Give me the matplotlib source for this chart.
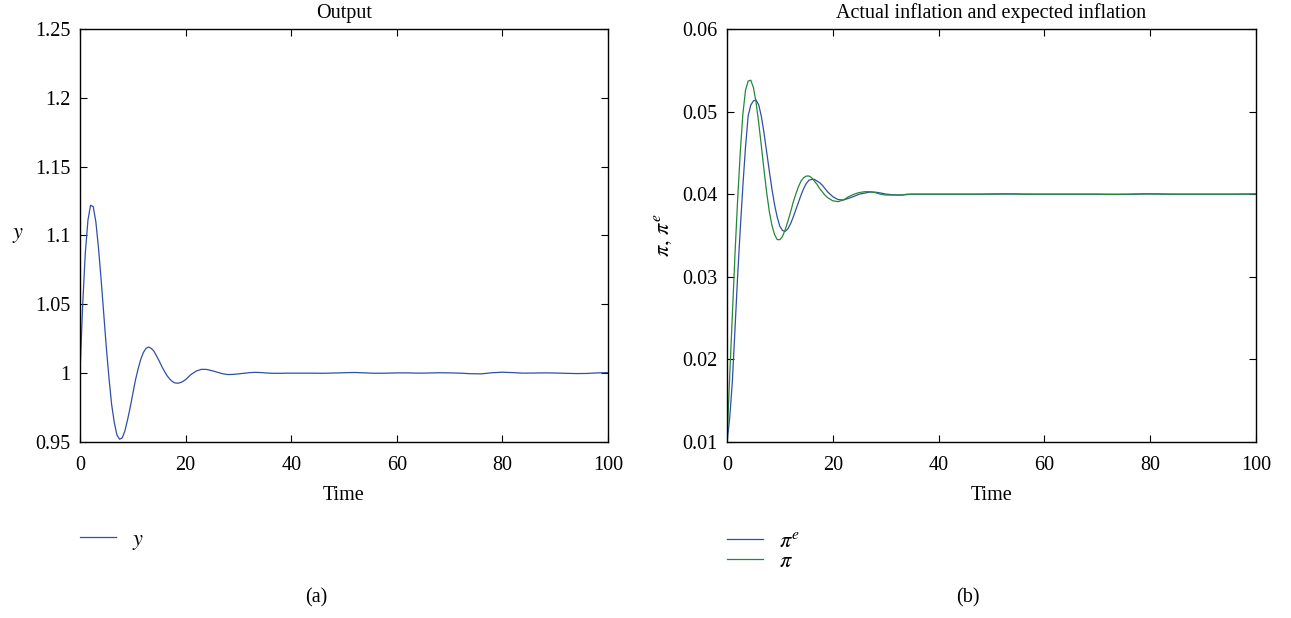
import matplotlib
matplotlib.use("Agg")
import matplotlib.pyplot as plt
from matplotlib.ticker import FormatStrFormatter

plt.rcParams['font.family'] = ['Liberation Serif', 'DejaVu Serif']
plt.rcParams['mathtext.fontset'] = 'stix'

# time grid: 0..20 by 0.5, 21..40 by 1, 42..100 by 2
time = [0, 0.5, 1, 1.5, 2, 2.5, 3, 3.5, 4, 4.5, 5, 5.5, 6, 6.5, 7, 7.5, 8, 8.5, 9, 9.5,
        10, 10.5, 11, 11.5, 12, 12.5, 13, 13.5, 14, 14.5, 15, 15.5, 16, 16.5, 17, 17.5,
        18, 18.5, 19, 19.5, 20,
        21, 22, 23, 24, 25, 26, 27, 28, 29, 30, 31, 32, 33, 34, 35, 36, 37, 38, 39, 40,
        42, 44, 46, 48, 50, 52, 54, 56, 58, 60, 62, 64, 66, 68, 70, 72, 74, 76, 78, 80,
        82, 84, 86, 88, 90, 92, 94, 96, 98, 100]

# output y
output_y = [1.000, 1.049, 1.087, 1.111, 1.122, 1.121, 1.110, 1.091, 1.068, 1.043,
            1.018, 0.996, 0.977, 0.964, 0.955, 0.952, 0.953, 0.958, 0.966, 0.975,
            0.985, 0.995, 1.003, 1.010, 1.015, 1.018, 1.019, 1.018, 1.016, 1.0125,
            1.0088, 1.0049, 1.0013, 0.9981, 0.9957, 0.9939, 0.9929, 0.9927, 0.9931, 0.9940,
            0.9953,
            0.9990, 1.0015, 1.0028, 1.0027, 1.0018, 1.0007, 0.9996, 0.9990, 0.9991, 0.9995,
            0.9999, 1.0003, 1.0006, 1.0005, 1.0002, 1.0000, 0.9999, 0.9999, 1.0000, 1.0000,
            1.0000, 1.0000, 0.9999, 1.0001, 1.0003, 1.0005, 1.0002, 0.9999, 1.0000, 1.0002,
            1.0002, 1.0000, 1.0001, 1.0003, 1.0002, 1.0000, 0.9996, 0.9995, 1.0003, 1.0007,
            1.0004, 1.0000, 1.0001, 1.0002, 1.0001, 0.9999, 0.9997, 0.9998, 1.0002, 1.0004]

# expected inflation pi^e
pi_e = [0.0100, 0.0128, 0.0172, 0.0235, 0.0300, 0.0357, 0.0410, 0.0457, 0.0495, 0.0508,
        0.0513, 0.0514, 0.0508, 0.0494, 0.0474, 0.0451, 0.0428, 0.0406, 0.0387, 0.0372,
        0.0361, 0.0356, 0.0355, 0.0358, 0.0364, 0.0372, 0.0381, 0.0390, 0.0399, 0.0407,
        0.0413, 0.0417, 0.0418, 0.0418, 0.0416, 0.0414, 0.0411, 0.0407, 0.0403, 0.0400,
        0.0397,
        0.03935, 0.0393, 0.0395, 0.03974, 0.0400, 0.04013, 0.04026, 0.04025, 0.04015, 0.04002,
        0.03995, 0.0399, 0.0399, 0.03995, 0.0400, 0.0400, 0.0400, 0.0400, 0.0400, 0.0400,
        0.0400, 0.0400, 0.0400, 0.0400, 0.04001, 0.04003, 0.04003, 0.04001, 0.0400, 0.0400,
        0.0400, 0.0400, 0.0400, 0.0400, 0.0400, 0.03999, 0.03998, 0.03999, 0.04002, 0.04004,
        0.04002, 0.0400, 0.0400, 0.0400, 0.0400, 0.0400, 0.0400, 0.0400, 0.04001, 0.04002]

# actual inflation pi
pi_a = [0.0100, 0.0178, 0.0252, 0.0326, 0.0392, 0.0450, 0.0497, 0.0526, 0.0537, 0.0538,
        0.0529, 0.0511, 0.0486, 0.0458, 0.0429, 0.0402, 0.0379, 0.0362, 0.0351, 0.0345,
        0.0345, 0.0349, 0.0357, 0.0367, 0.0378, 0.0390, 0.0400, 0.0409, 0.0416, 0.0420,
        0.0422, 0.0422, 0.0420, 0.0416, 0.0412, 0.0407, 0.0403, 0.0399, 0.0396, 0.0394,
        0.0392,
        0.0391, 0.0393, 0.0397, 0.0400, 0.0402, 0.0403, 0.0403, 0.0402, 0.0400, 0.0399,
        0.0399, 0.0399, 0.0399, 0.0400, 0.0400, 0.0400, 0.0400, 0.0400, 0.0400, 0.0400,
        0.0400, 0.0400, 0.0400, 0.0400, 0.04002, 0.04004, 0.04003, 0.0400, 0.0400, 0.0400,
        0.0400, 0.0400, 0.0400, 0.0400, 0.0400, 0.03998, 0.03999, 0.0400, 0.04003, 0.04004,
        0.04002, 0.0400, 0.0400, 0.0400, 0.0400, 0.0400, 0.0400, 0.0400, 0.04001, 0.04003]

y_ticks_a = [0.95, 1, 1.05, 1.1, 1.15, 1.2, 1.25]
y_ticks_b = [0.01, 0.02, 0.03, 0.04, 0.05, 0.06]
x_ticks = [0, 20, 40, 60, 80, 100]

blue = '#2f4fa8'
green = '#23883a'
fs = 14.5

fig = plt.figure(figsize=(12.91, 6.18), dpi=100)
ax1 = fig.add_axes([80 / 1291, 1 - 442 / 618, 528 / 1291, 413 / 618])
ax2 = fig.add_axes([727 / 1291, 1 - 442 / 618, 529 / 1291, 413 / 618])


def style(ax):
    ax.set_xlim(0, 100)
    ax.set_xticks(x_ticks)
    ax.tick_params(direction='in', length=5, width=0.8, top=True, right=True,
                   labelsize=fs, pad=7)
    ax.tick_params(axis='x', pad=10)
    for s in ax.spines.values():
        s.set_linewidth(1.0)
    ax.set_xlabel('Time', fontsize=fs, labelpad=8)


ax1.plot(time, output_y, color=blue, lw=0.9, label='$y$')
style(ax1)
ax1.set_ylim(0.95, 1.25)
ax1.set_yticks(y_ticks_a)
ax1.yaxis.set_major_formatter(FormatStrFormatter('%g'))
ax1.set_title('Output', fontsize=fs, pad=8)
ax1.set_ylabel('$y$', fontsize=16, rotation=0, labelpad=12, va='center')
ax1.legend(loc='center left', bbox_to_anchor=(80 / 1291, 1 - 541 / 618),
           bbox_transform=fig.transFigure, frameon=False, fontsize=16,
           borderpad=0, borderaxespad=0, handlelength=1.6, handletextpad=0.75)

ax2.plot(time, pi_e, color=blue, lw=0.9, label=r'$\pi^e$')
ax2.plot(time, pi_a, color=green, lw=0.9, label=r'$\pi$')
style(ax2)
ax2.set_ylim(0.01, 0.06)
ax2.set_yticks(y_ticks_b)
ax2.yaxis.set_major_formatter(FormatStrFormatter('%g'))
ax2.set_title('Actual inflation and expected inflation', fontsize=fs, pad=8)
ax2.set_ylabel(r'$\pi,\,\pi^e$', fontsize=16, labelpad=6)
ax2.legend(loc='upper left', bbox_to_anchor=(727 / 1291, 1 - 531 / 618),
           bbox_transform=fig.transFigure, frameon=False, fontsize=16,
           borderpad=0, borderaxespad=0, handlelength=1.6, handletextpad=0.75,
           labelspacing=0.0)

fig.text(316 / 1291, 1 - 598 / 618, '(a)', fontsize=fs, ha='center', va='center')
fig.text(968 / 1291, 1 - 598 / 618, '(b)', fontsize=fs, ha='center', va='center')

fig.savefig('out.png', dpi=100)
